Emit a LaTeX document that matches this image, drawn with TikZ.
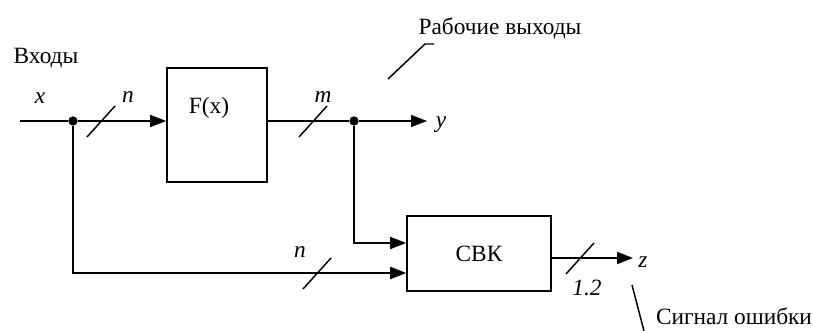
\documentclass[tikz,border=0pt]{standalone}
\usepackage{fontspec}
\setmainfont{Liberation Serif}
\usetikzlibrary{arrows.meta,calc}
\tikzset{
  blk/.style  = {rectangle, draw=black, line width=1.2pt, inner sep=0pt,
                 font=\fontsize{17.5}{20}\selectfont},
  wire/.style = {line width=1.2pt},
  fl/.style   = {-{Triangle[length=12pt,width=9pt]}, line width=1.2pt},
  flt/.style  = {fl, line width=1.7pt},
  cut/.style  = {line width=1.1pt},
  dot/.style  = {circle, fill=black, inner sep=0pt, minimum size=7pt},
  lbl/.style  = {inner sep=0pt, font=\fontsize{17.5}{20}\selectfont},
  var/.style  = {inner sep=0pt, font=\fontsize{17.5}{20}\selectfont\itshape},
}

\begin{document}
\begin{tikzpicture}[x=0.75pt, y=-0.75pt]
    \useasboundingbox (0,0) rectangle (813,331);
    % блоки
    \node[blk, minimum width=75pt, minimum height=85.5pt] (f) at (217,125) {};
    \node[lbl] (fx) at (209,108) {F(x)};
    \node[blk, minimum width=108pt, minimum height=56.25pt] (svk) at (479,253.5) {СВК};
    % узлы
    \coordinate (in) at (20,121);
    \node[dot] (j1) at (73,121) {};
    \node[dot] (j2) at (354,121) {};
    \coordinate (yout) at (427,121);
    \coordinate (zout) at (633,258);
    % связи
    \draw[wire] (in) -- (j1);
    \draw[fl] (j1) -- (f.west |- j1);
    \draw[wire] (f.east |- j2) -- (j2);
    \draw[fl] (j2) -- (yout);
    \draw[flt] (j1) |- ($(svk.west)+(0,19.5)$);
    \draw[fl] (j2) |- ($(svk.west)+(0,-10.5)$);
    \draw[flt] (svk.east |- zout) -- (zout);
    % разрядность шин
    \coordinate (s1) at (101,121);
    \coordinate (s2) at (313,121);
    \coordinate (s3) at (317,273);
    \coordinate (s4) at (580,258);
    \foreach \s in {s1,s2,s3,s4}
      \draw[cut] (\s) +(-14,16) -- +(14,-15);
    % подписи
    \node[var] (lx)  at (40,98)   {x};
    \node[var] (ln1) at (128,97)  {n};
    \node[var] (lm)  at (323,97)  {m};
    \node[var] (ly)  at (441,125) {y};
    \node[var] (ln2) at (300,252) {n};
    \node[var] (l12) at (587,288) {1.2};
    \node[var] (lz)  at (643,262) {z};
    \node[lbl] (vh) at (46,58)  {Входы};
    \node[lbl] (rv) at (500,28) {Рабочие выходы};
    \node[lbl] (so) at (734,316) {Сигнал ошибки};
    % выноски
    \coordinate (rvtip) at (388,79);
    \coordinate (sotip) at (632,285);
    \draw[cut] (rvtip) -- ++(37,-35) -- ++(9,0);
    \draw[cut] (sotip) -- ++(12,46);
\end{tikzpicture}
\end{document}
